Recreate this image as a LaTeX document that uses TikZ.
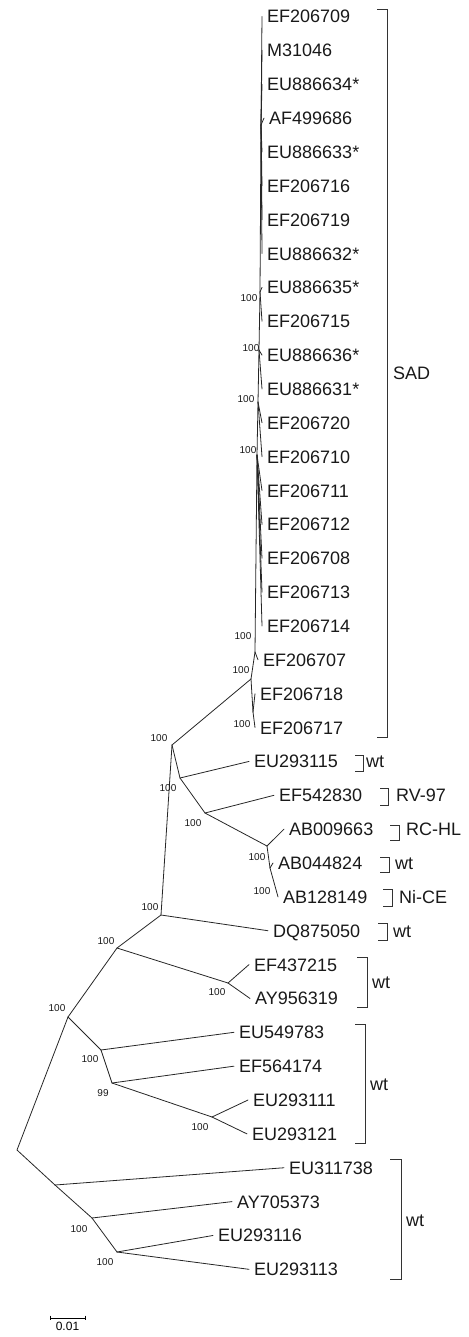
\documentclass[tikz,border=0pt]{standalone}
\usepackage{fontspec}
\setmainfont{Liberation Sans}
\begin{document}
\begin{tikzpicture}[x=1pt,y=-1pt,
  br/.style={line width=0.8pt, line cap=round, draw=black!85},
  tax/.style={anchor=west, inner xsep=5pt, inner ysep=0pt, text height=13pt, text depth=0pt, font=\fontsize{18}{20}\selectfont, text=black!90},
  bs/.style={inner sep=0pt, text height=7.2pt, text depth=0pt, font=\fontsize{10}{12}\selectfont, text=black!90},
  grp/.style={anchor=base west, inner sep=0pt, font=\fontsize{18}{20}\selectfont, text=black!90},
  brk/.style={line width=0.9pt, draw=black!80}]
\useasboundingbox (0,0) rectangle (468,1337);
% ---------- taxa ----------
\node[tax] (t0)  at (262,16.5)   {EF206709};
\node[tax] (t1)  at (262,50.36)  {M31046};
\node[tax] (t2)  at (262,84.22)  {EU886634*};
\node[tax] (t3)  at (264,118.08) {AF499686};
\node[tax] (t4)  at (262,151.94) {EU886633*};
\node[tax] (t5)  at (262,185.8)  {EF206716};
\node[tax] (t6)  at (262,219.66) {EF206719};
\node[tax] (t7)  at (262,253.52) {EU886632*};
\node[tax] (t8)  at (262,287.38) {EU886635*};
\node[tax] (t9)  at (262,321.24) {EF206715};
\node[tax] (t10) at (262,355.1)  {EU886636*};
\node[tax] (t11) at (262,388.96) {EU886631*};
\node[tax] (t12) at (262,422.82) {EF206720};
\node[tax] (t13) at (262,456.68) {EF206710};
\node[tax] (t14) at (262,490.54) {EF206711};
\node[tax] (t15) at (262,524.4)  {EF206712};
\node[tax] (t16) at (262,558.26) {EF206708};
\node[tax] (t17) at (262,592.12) {EF206713};
\node[tax] (t18) at (262,625.98) {EF206714};
\node[tax] (t19) at (258,659.84) {EF206707};
\node[tax] (t20) at (255,693.7)  {EF206718};
\node[tax] (t21) at (255,727.56) {EF206717};
\node[tax] (t22) at (249,761.42) {EU293115};
\node[tax] (t23) at (274,795.28) {EF542830};
\node[tax] (t24) at (284,829.14) {AB009663};
\node[tax] (t25) at (273,863.0)  {AB044824};
\node[tax] (t26) at (278,896.86) {AB128149};
\node[tax] (t27) at (268,930.72) {DQ875050};
\node[tax] (t28) at (249,964.58) {EF437215};
\node[tax] (t29) at (250,998.44) {AY956319};
\node[tax] (t30) at (234,1032.3) {EU549783};
\node[tax] (t31) at (234,1066.16) {EF564174};
\node[tax] (t32) at (248,1100.02) {EU293111};
\node[tax] (t33) at (247,1133.88) {EU293121};
\node[tax] (t34) at (284,1167.74) {EU311738};
\node[tax] (t35) at (232,1201.6) {AY705373};
\node[tax] (t36) at (213,1235.46) {EU293116};
\node[tax] (t37) at (249,1269.32) {EU293113};
% ---------- internal nodes ----------
\coordinate (root) at (17,1150);
\coordinate (A) at (68,1017);
\coordinate (B) at (55,1185);
\coordinate (C) at (92,1218);
\coordinate (D) at (117,1252);
\coordinate (E) at (117,948);
\coordinate (F) at (101,1050);
\coordinate (G) at (112,1083);
\coordinate (H) at (212,1117);
\coordinate (I) at (161,915);
\coordinate (J) at (228,983);
\coordinate (K) at (172,745);
\coordinate (L) at (251,679);
\coordinate (M) at (180,778);
\coordinate (N) at (205,813);
\coordinate (O) at (267,846);
\coordinate (P) at (270,868);
\coordinate (R) at (253,712);
\coordinate (S1) at (255,652);
\coordinate (S2) at (257,455);
\coordinate (S3) at (258,402);
\coordinate (S4) at (259,350);
\coordinate (S5) at (260,292);
\coordinate (S6) at (261,125);
% ---------- branches ----------
\draw[br] (A) -- (root) -- (B);
\draw[br] (B) -- (t34.west);
\draw[br] (B) -- (C);
\draw[br] (C) -- (t35.west);
\draw[br] (C) -- (D);
\draw[br] (D) -- (t36.west);
\draw[br] (D) -- (t37.west);
\draw[br] (A) -- (E);
\draw[br] (A) -- (F);
\draw[br] (F) -- (t30.west);
\draw[br] (F) -- (G);
\draw[br] (G) -- (t31.west);
\draw[br] (G) -- (H);
\draw[br] (H) -- (t32.west);
\draw[br] (H) -- (t33.west);
\draw[br] (E) -- (I);
\draw[br] (E) -- (J);
\draw[br] (J) -- (t28.west);
\draw[br] (J) -- (t29.west);
\draw[br] (I) -- (t27.west);
\draw[br] (I) -- (K);
\draw[br] (K) -- (L);
\draw[br] (K) -- (M);
\draw[br] (M) -- (t22.west);
\draw[br] (M) -- (N);
\draw[br] (N) -- (t23.west);
\draw[br] (N) -- (O);
\draw[br] (O) -- (t24.west);
\draw[br] (O) -- (P);
\draw[br] (P) -- (t25.west);
\draw[br] (P) -- (t26.west);
\draw[br] (L) -- (R);
\draw[br] (R) -- (t20.west);
\draw[br] (R) -- (t21.west);
\draw[br] (L) -- (S1);
\draw[br] (S1) -- (t19.west);
\draw[br] (S1) -- (S2);
\foreach \t in {14,...,18} \draw[br] (S2) -- (t\t.west);
\draw[br] (S2) -- (S3);
\foreach \t in {12,13} \draw[br] (S3) -- (t\t.west);
\draw[br] (S3) -- (S4);
\foreach \t in {10,11} \draw[br] (S4) -- (t\t.west);
\draw[br] (S4) -- (S5);
\foreach \t in {8,9} \draw[br] (S5) -- (t\t.west);
\draw[br] (S5) -- (S6);
\foreach \t in {0,...,7} \draw[br] (S6) -- (t\t.west);
% ---------- bootstrap values ----------
\node[bs] (bA)  at (57,1008)  {100};
\node[bs] (bC)  at (79,1229)  {100};
\node[bs] (bD)  at (105,1262) {100};
\node[bs] (bE)  at (106,941)  {100};
\node[bs] (bF)  at (90,1059)  {100};
\node[bs] (bG)  at (103,1093) {99};
\node[bs] (bH)  at (200,1127) {100};
\node[bs] (bI)  at (150,907)  {100};
\node[bs] (bJ)  at (217,992)  {100};
\node[bs] (bK)  at (159,738)  {100};
\node[bs] (bM)  at (168,788)  {100};
\node[bs] (bN)  at (193,823)  {100};
\node[bs] (bO)  at (257,857)  {100};
\node[bs] (bP)  at (262,891)  {100};
\node[bs] (bL)  at (241,670)  {100};
\node[bs] (bS1) at (243,636)  {100};
\node[bs] (bR)  at (242,724)  {100};
\node[bs] (bS2) at (248,450)  {100};
\node[bs] (bS3) at (246,399)  {100};
\node[bs] (bS4) at (251,348)  {100};
\node[bs] (bS5) at (249,298)  {100};
% ---------- group brackets ----------
\draw[brk] (377,9) -- (387,9) -- (387,737) -- (377,737);
\node[grp] (gSAD) at (393,379) {SAD};
\draw[brk] (355,755) -- (363,755) -- (363,771) -- (355,771);
\node[grp] (g1) at (366,767.9) {wt};
\draw[brk] (380,788) -- (388,788) -- (388,805) -- (380,805);
\node[grp] (g2) at (396,801.8) {RV-97};
\draw[brk] (390,825) -- (399,825) -- (399,840) -- (390,840);
\node[grp] (g3) at (406,835.6) {RC-HL};
\draw[brk] (380,857) -- (389,857) -- (389,872) -- (380,872);
\node[grp] (g4) at (395,869.5) {wt};
\draw[brk] (383,889) -- (392,889) -- (392,906) -- (383,906);
\node[grp] (g5) at (399,903.4) {Ni-CE};
\draw[brk] (378,923) -- (387,923) -- (387,940) -- (378,940);
\node[grp] (g6) at (393,937.2) {wt};
\draw[brk] (357,957) -- (367,957) -- (367,1007) -- (357,1007);
\node[grp] (g7) at (372,988) {wt};
\draw[brk] (355,1024) -- (365,1024) -- (365,1143) -- (355,1143);
\node[grp] (g8) at (370,1090) {wt};
\draw[brk] (390,1159) -- (401,1159) -- (401,1279) -- (390,1279);
\node[grp] (g9) at (406,1226) {wt};
% ---------- scale bar ----------
\coordinate (sb1) at (50,1318);
\coordinate (sb2) at (85,1318);
\draw[line width=0.8pt] (sb1) -- (sb2);
\draw[line width=0.8pt] ([yshift=2.5pt]sb1) -- ([yshift=-1.5pt]sb1);
\draw[line width=0.8pt] ([yshift=2.5pt]sb2) -- ([yshift=-1.5pt]sb2);
\node[inner sep=0pt, anchor=north, font=\fontsize{12}{14}\selectfont] (sbl) at (67.5,1322) {0.01};
\end{tikzpicture}
\end{document}
